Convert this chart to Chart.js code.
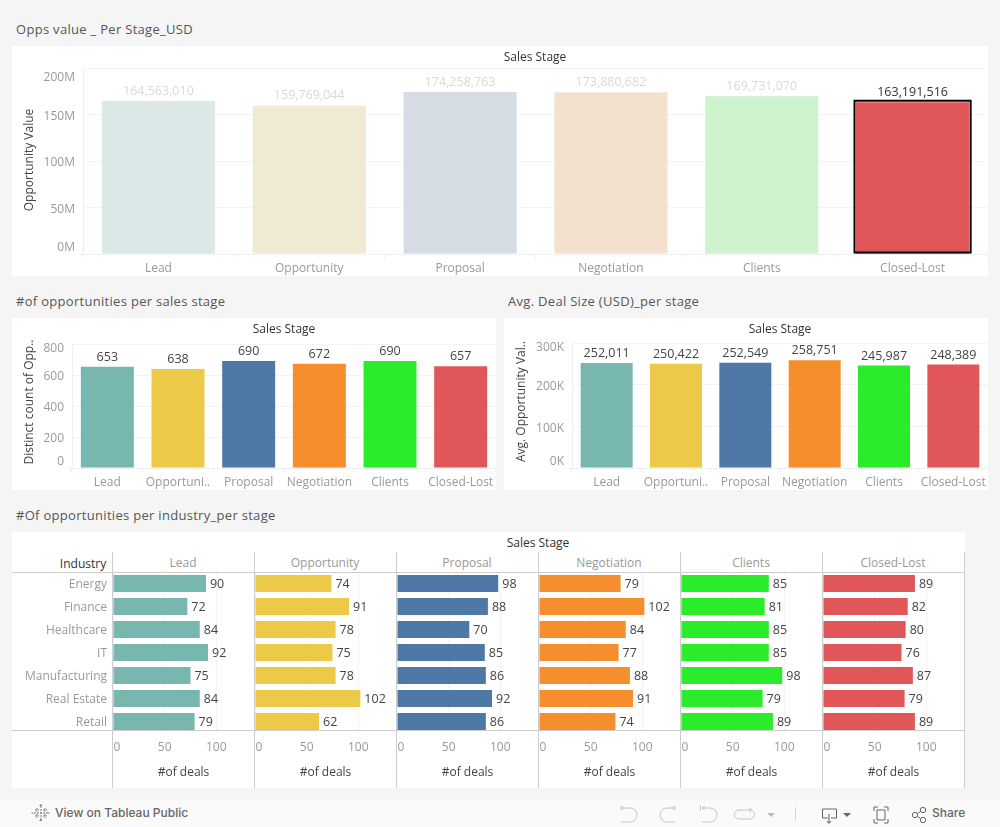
<!DOCTYPE html>
<html lang="en">

<head>
    <meta charset="UTF-8">
    <title>Sales pipeline dashboard</title>
    <script src="https://cdn.jsdelivr.net/npm/chart.js"></script>
    <style>
        html, body { margin: 0; padding: 0; }
        body { width: 1000px; height: 827px; background: #f5f5f5; position: relative; overflow: hidden; font-family: "Open Sans", sans-serif; }
        .panel { position: absolute; background: #fff; }
        canvas { position: absolute; display: block; }
        .titulo { position: absolute; font-size: 13px; letter-spacing: 0.3px; color: #555; line-height: 16px; white-space: nowrap; }
        .cab { position: absolute; font-size: 12px; font-weight: 500; color: #333; line-height: 16px; white-space: nowrap; transform: translateX(-50%); }
        .stage { position: absolute; font-size: 12px; color: #999; line-height: 16px; text-align: center; width: 142px; top: 555px; }
        .linha { position: absolute; background: #cdcdcd; }
        .toolbar { position: absolute; left: 0; top: 800px; width: 1000px; height: 27px; background: #fafafa; }
        .toolbar span { position: absolute; top: 5px; font-family: Inter, sans-serif; font-size: 12px; font-weight: 500; color: #666; line-height: 16px; white-space: nowrap; }
        .toolbar svg { position: absolute; left: 0; top: 0; }
    </style>
</head>

<body>

    <div class="titulo" style="left:16px;top:21px">Opps value _ Per Stage_USD</div>
    <div class="panel" style="left:12px;top:46px;width:976px;height:230px"></div>
    <canvas id="g_valor" width="976" height="230" style="left:12px;top:46px"></canvas>
    <div class="cab" style="left:535px;top:49px">Sales Stage</div>

    <div class="titulo" style="left:16px;top:293px">#of opportunities per sales stage</div>
    <div class="panel" style="left:12px;top:318px;width:484px;height:172px"></div>
    <canvas id="g_qtd" width="484" height="172" style="left:12px;top:318px"></canvas>
    <div class="cab" style="left:284px;top:321px">Sales Stage</div>

    <div class="titulo" style="left:508px;top:293px">Avg. Deal Size (USD)_per stage</div>
    <div class="panel" style="left:504px;top:318px;width:484px;height:172px"></div>
    <canvas id="g_media" width="484" height="172" style="left:504px;top:318px"></canvas>
    <div class="cab" style="left:780px;top:321px">Sales Stage</div>

    <div class="titulo" style="left:16px;top:507px">#Of opportunities per industry_per stage</div>
    <div class="panel" style="left:12px;top:532px;width:953px;height:256px"></div>
    <div class="cab" style="left:538px;top:535px">Sales Stage</div>
    <div class="cab" style="left:83px;top:556px">Industry</div>
    <div id="colunas"></div>

    <div class="toolbar">
        <svg width="1000" height="27" fill="none" stroke="#8a8a8a" stroke-width="1">
            <g stroke="#777">
                <path d="M41 6v14M34 13h14M37 9v0M37 8v4M35 10h4M45 8v4M43 10h4M37 14v4M35 16h4M45 14v4M43 16h4M41 4v3M39.5 5.5h3M41 19v3M39.5 20.5h3M31.5 13h3M47.5 13h3" stroke-dasharray="2 1"></path>
            </g>
            <g stroke="#c4c4c4">
                <path d="M621 8h9a5.500 5.500 0 0 1 0 14h-9M623 6l-3 2 3 2"></path>
                <path d="M675 8h-8a6 6 0 0 0 0 14h8M673 6l3 2-3 2"></path>
                <path d="M703 8h7a5.500 5.500 0 0 1 0 14h-8M705 6l-3 2 3 2M700.500 5v6"></path>
                <path d="M738 10h12a2.500 2.500 0 0 1 0 9h-11a2.500 2.500 0 0 1 0-9M749 8l3 2-3 2"></path>
                <path d="M795.500 7v14" stroke="#d4d4d4"></path>
            </g>
            <path d="M767 13h8l-4 4z" fill="#bbb" stroke="none"></path>
            <g stroke="#666">
                <path d="M828 18h-5.500v-9h14v9h-5.500M829 14v9M827 21l2 2.500 2-2.500"></path>
                <path d="M874 11v-4h4M884 7h4v4M888 19v4h-4M878 23h-4v-4M877 10h8v10h-8z"></path>
                <circle cx="915" cy="15" r="2.700"></circle>
                <circle cx="923" cy="10" r="2.700"></circle>
                <circle cx="923" cy="20" r="2.700"></circle>
                <path d="M917.500 13.500l3-2M917.500 16.500l3 2"></path>
            </g>
            <path d="M843 13h8l-4 4z" fill="#666" stroke="none"></path>
        </svg>
        <span style="left:55px">View on Tableau Public</span>
        <span style="left:932px">Share</span>
    </div>

</body>

</html>
<script>
    const stages = ['Lead', 'Opportunity', 'Proposal', 'Negotiation', 'Clients', 'Closed-Lost'];
    const stagesCurtos = ['Lead', 'Opportuni..', 'Proposal', 'Negotiation', 'Clients', 'Closed-Lost'];
    const industries = ['Energy', 'Finance', 'Healthcare', 'IT', 'Manufacturing', 'Real Estate', 'Retail'];

    const valorOpps = [164563010, 159769044, 174258763, 173880682, 169731070, 163191516];
    const qtdOpps = [653, 638, 690, 672, 690, 657];
    const mediaDeal = [252011, 250422, 252549, 258751, 245987, 248389];

    const dealsLead = [90, 72, 84, 92, 75, 84, 79];
    const dealsOpportunity = [74, 91, 78, 75, 78, 102, 62];
    const dealsProposal = [98, 88, 70, 85, 86, 92, 86];
    const dealsNegotiation = [79, 102, 84, 77, 88, 91, 74];
    const dealsClients = [85, 81, 85, 85, 98, 79, 89];
    const dealsClosedLost = [89, 82, 80, 76, 87, 79, 89];
    const dealsPorStage = [dealsLead, dealsOpportunity, dealsProposal, dealsNegotiation, dealsClients, dealsClosedLost];

    const ticksValor = [0, 50000000, 100000000, 150000000, 200000000];
    const ticksQtd = [0, 200, 400, 600, 800];
    const ticksMedia = [0, 100000, 200000, 300000];
    const ticksDeals = [0, 50, 100];

    const cores = ['#78b6b0', '#ecc947', '#4e78a6', '#f58e2c', '#2aec2b', '#e15759'];
    const coresClaras = ['#dce8e7', '#f1ead3', '#d5dce4', '#f3e1ce', '#cff2cf', '#e15759'];

    const FONTE = '"Open Sans", sans-serif';
    const CINZA = '#999999';
    const GRADE = '#f3f3f3';

    Chart.defaults.font.family = FONTE;
    Chart.defaults.animation = false;

    // rotulos de valor em cima (ou ao lado) das barras
    const rotulosPlugin = {
        id: 'rotulos',
        afterDatasetsDraw(chart, args, opts) {
            const ctx = chart.ctx;
            const meta = chart.getDatasetMeta(0);
            ctx.save();
            ctx.font = '12.5px ' + FONTE;
            ctx.textBaseline = 'middle';
            meta.data.forEach(function (bar, i) {
                const v = chart.data.datasets[0].data[i];
                ctx.fillStyle = opts.cores ? opts.cores[i] : '#444';
                if (opts.horizontal) {
                    ctx.textAlign = 'left';
                    ctx.fillText(v, bar.x + 4, bar.y + 1);
                } else {
                    ctx.textAlign = 'center';
                    ctx.fillText(v.toLocaleString('en-US'), bar.x, bar.y - 9.5);
                }
            });
            ctx.restore();
        }
    };

    // borda preta da barra selecionada, por fora da barra
    const destaquePlugin = {
        id: 'destaque',
        afterDatasetsDraw(chart, args, opts) {
            if (opts.indice === undefined) return;
            const bar = chart.getDatasetMeta(0).data[opts.indice];
            const ctx = chart.ctx;
            ctx.save();
            ctx.strokeStyle = '#000';
            ctx.lineWidth = 2;
            ctx.strokeRect(bar.x - bar.width / 2 - 1.5, bar.y - 1.5, bar.width + 3, bar.base - bar.y + 0.5);
            ctx.restore();
        }
    };

    // o Tableau empurra os rotulos das pontas para dentro do eixo
    function ajustePlugin(eixo, desvios, desvioBase, tituloDy, desvioOutro) {
        return {
            id: 'ajuste',
            afterLayout(chart) {
                const scale = chart.scales[eixo];
                scale.getLabelItems(chart.chartArea).forEach(function (item, i) {
                    const d = desvios[i] || [0, 0];
                    item.options.translation[0] += d[0];
                    item.options.translation[1] += d[1] + desvioBase;
                });
                if (tituloDy && !scale._tituloAjustado) {
                    const original = scale.drawTitle;
                    scale.drawTitle = function () {
                        this.ctx.save();
                        this.ctx.translate(0, tituloDy);
                        original.call(this);
                        this.ctx.restore();
                    };
                    scale._tituloAjustado = true;
                }
                // o outro eixo tambem fica um pouco mais baixo, como no original
                const outro = eixo === 'y' ? chart.scales.x : chart.scales.y;
                if (outro.options.display) {
                    outro.getLabelItems(chart.chartArea).forEach(function (item) {
                        item.options.translation[1] += desvioOutro;
                    });
                }
            }
        };
    }

    function graficoColunas(id, cfg) {
        return new Chart(document.getElementById(id), {
            type: 'bar',
            data: {
                labels: cfg.labels,
                datasets: [{ data: cfg.valores, backgroundColor: cfg.cores, barPercentage: 0.75, categoryPercentage: 1 }]
            },
            options: {
                responsive: false,
                layout: { padding: { top: cfg.topo } },
                plugins: {
                    legend: { display: false },
                    tooltip: { enabled: false },
                    rotulos: { cores: cfg.coresRotulo },
                    destaque: { indice: cfg.destaque }
                },
                scales: {
                    x: {
                        afterFit(s) { s.height = cfg.alturaX; },
                        grid: { drawOnChartArea: false, color: '#ececec', tickLength: 4 },
                        border: { color: '#efefef' },
                        ticks: { color: CINZA, font: { size: 12 }, padding: 2, maxRotation: 0, autoSkip: false }
                    },
                    y: {
                        min: cfg.ticks[0],
                        max: cfg.ticks[cfg.ticks.length - 1],
                        afterFit(s) { s.width = cfg.larguraY; },
                        afterBuildTicks(s) { s.ticks = cfg.ticks.map(function (v) { return { value: v }; }); },
                        grid: {
                            color: GRADE,
                            tickLength: 4,
                            tickColor(c) { return c.tick.value === 0 ? '#ececec' : 'rgba(0,0,0,0)'; }
                        },
                        border: { color: '#f0f0f0' },
                        title: {
                            display: true,
                            text: cfg.tituloY,
                            color: '#444',
                            font: { size: 12 },
                            padding: { top: 10, bottom: 0 }
                        },
                        ticks: { color: CINZA, font: { size: 12 }, padding: 4, callback: cfg.formato }
                    }
                }
            },
            plugins: [rotulosPlugin, destaquePlugin, ajustePlugin('y', cfg.desvios, 2, cfg.tituloDy, 1.5)]
        });
    }

    graficoColunas('g_valor', {
        labels: stages,
        valores: valorOpps,
        cores: coresClaras,
        coresRotulo: ['#d9d9d9', '#d9d9d9', '#d9d9d9', '#d9d9d9', '#d9d9d9', '#333'],
        destaque: 5,
        ticks: ticksValor,
        formato(v) { return (v / 1000000) + 'M'; },
        tituloY: 'Opportunity Value',
        tituloDy: -1,
        topo: 22,
        larguraY: 71,
        alturaX: 22,
        desvios: [[0, -8], null, null, null, [0, 8]]
    });

    graficoColunas('g_qtd', {
        labels: stagesCurtos,
        valores: qtdOpps,
        cores: cores,
        ticks: ticksQtd,
        formato(v) { return v; },
        tituloY: 'Distinct count of Opp..',
        tituloDy: -4,
        topo: 26,
        larguraY: 60,
        alturaX: 22,
        desvios: [[0, -8], null, null, null, [0, 3]]
    });

    graficoColunas('g_media', {
        labels: stagesCurtos,
        valores: mediaDeal,
        cores: cores,
        ticks: ticksMedia,
        formato(v) { return (v / 1000) + 'K'; },
        tituloY: 'Avg. Opportunity Val..',
        tituloDy: -4,
        topo: 25,
        larguraY: 68,
        alturaX: 22,
        desvios: [[0, -8], null, null, [0, 3]]
    });

    // small multiples: uma coluna por stage, a primeira leva os nomes das industrias
    const colunas = document.getElementById('colunas');
    const LEFT0 = 113, PASSO = 142;

    stages.forEach(function (stage, i) {
        const cab = document.createElement('div');
        cab.className = 'stage';
        cab.style.left = (LEFT0 + PASSO * i - 1) + 'px';
        cab.textContent = stage;
        colunas.appendChild(cab);

        const canvas = document.createElement('canvas');
        const esquerda = i === 0 ? 12 : LEFT0 + PASSO * i;
        canvas.width = LEFT0 + PASSO * i + 141 - esquerda;
        canvas.height = 216;
        canvas.style.left = esquerda + 'px';
        canvas.style.top = '572px';
        colunas.appendChild(canvas);

        new Chart(canvas, {
            type: 'bar',
            data: {
                labels: industries,
                datasets: [{ data: dealsPorStage[i], backgroundColor: cores[i], barPercentage: 0.74, categoryPercentage: 1 }]
            },
            options: {
                responsive: false,
                indexAxis: 'y',
                plugins: {
                    legend: { display: false },
                    tooltip: { enabled: false },
                    rotulos: { horizontal: true },
                    destaque: {}
                },
                scales: {
                    y: {
                        display: i === 0,
                        afterFit(s) {
                            s.width = i === 0 ? 101 : 0;
                            s.paddingTop = 0;
                            s.paddingBottom = 0;
                        },
                        grid: { display: false, drawTicks: false },
                        border: { display: false },
                        ticks: { color: CINZA, font: { size: 12 }, padding: 6, autoSkip: false }
                    },
                    x: {
                        min: 0,
                        max: 136.5,
                        afterFit(s) {
                            s.height = 55;
                            s.paddingLeft = 0;
                            s.paddingRight = 0;
                        },
                        afterBuildTicks(s) { s.ticks = ticksDeals.map(function (v) { return { value: v }; }); },
                        grid: { color: '#f3f3f3', drawTicks: false },
                        border: { display: false },
                        ticks: { color: CINZA, font: { size: 12 }, padding: 6, maxRotation: 0 },
                        title: {
                            display: true,
                            text: '#of deals',
                            color: '#444',
                            font: { size: 12 },
                            padding: { top: 0, bottom: 8 }
                        }
                    }
                }
            },
            plugins: [rotulosPlugin, destaquePlugin, ajustePlugin('x', [[4, 0]], 1.5, 0, 1)]
        });
    });

    // linhas da tabela do ultimo painel
    [112, 254, 396, 538, 680, 822, 964].forEach(function (x) {
        const l = document.createElement('div');
        l.className = 'linha';
        l.style.cssText = 'left:' + x + 'px;top:552px;width:1px;height:236px';
        colunas.appendChild(l);
    });
    [572, 730].forEach(function (y) {
        const l = document.createElement('div');
        l.className = 'linha';
        l.style.cssText = 'left:12px;top:' + y + 'px;width:953px;height:1px';
        colunas.appendChild(l);
    });
</script>
